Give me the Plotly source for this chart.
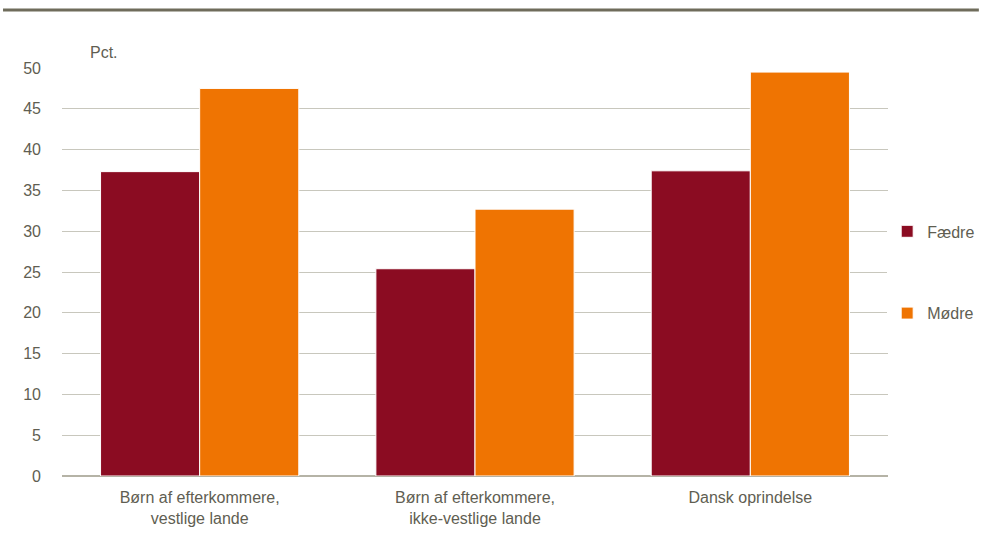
import plotly.graph_objects as go

categories = ["Børn af efterkommere,<br>vestlige lande",
              "Børn af efterkommere,<br>ikke-vestlige lande",
              "Dansk oprindelse"]
faedre = [37.3, 25.4, 37.4]
moedre = [47.5, 32.7, 49.5]
y_ticks = [0, 5, 10, 15, 20, 25, 30, 35, 40, 45, 50]

font_family = "Liberation Sans, Arial"
text_color = "#5f5e52"

fig = go.Figure()
fig.add_trace(go.Bar(name="Fædre", x=categories, y=faedre,
                     marker=dict(color="#8b0c22", line=dict(color="white", width=1)),
                     legendgroup="a"))
fig.add_trace(go.Bar(name="Mødre", x=categories, y=moedre,
                     marker=dict(color="#ef7402", line=dict(color="white", width=1)),
                     legendgroup="b"))

fig.update_layout(
    width=982, height=543,
    margin=dict(l=62, r=94, t=68, b=67, autoexpand=False),
    paper_bgcolor="white", plot_bgcolor="white",
    barmode="group", bargap=0.28, bargroupgap=0,
    font=dict(family=font_family, size=16, color=text_color),
    showlegend=True,
    legend=dict(x=0.999, y=0.499, xanchor="left", yanchor="middle",
                tracegroupgap=58, traceorder="grouped",
                font=dict(size=16, color=text_color),
                itemwidth=30),
    xaxis=dict(showgrid=False, showline=False, ticks="", tickfont=dict(size=16),
               ticklabelstandoff=10),
    yaxis=dict(range=[0, 50], tickvals=y_ticks, showgrid=True,
               gridcolor="#c8c7bd", gridwidth=1, zeroline=True,
               zerolinecolor="#b5b3a6", zerolinewidth=1.5,
               showline=False, ticks="", ticklabelstandoff=20,
               tickfont=dict(size=16)),
    shapes=[dict(type="line", xref="paper", yref="paper",
                 x0=-0.0714, x1=1.110, y0=1.142, y1=1.142,
                 line=dict(color="#6f6c5b", width=3))],
    annotations=[dict(text="Pct.", xref="paper", yref="paper",
                      x=0.032, y=1.012, xanchor="left", yanchor="bottom",
                      showarrow=False, font=dict(size=16, color=text_color))],
)

fig.write_html("out.html", config={"displayModeBar": False},
               post_script="document.body.style.margin='0';document.body.style.overflow='hidden';")
